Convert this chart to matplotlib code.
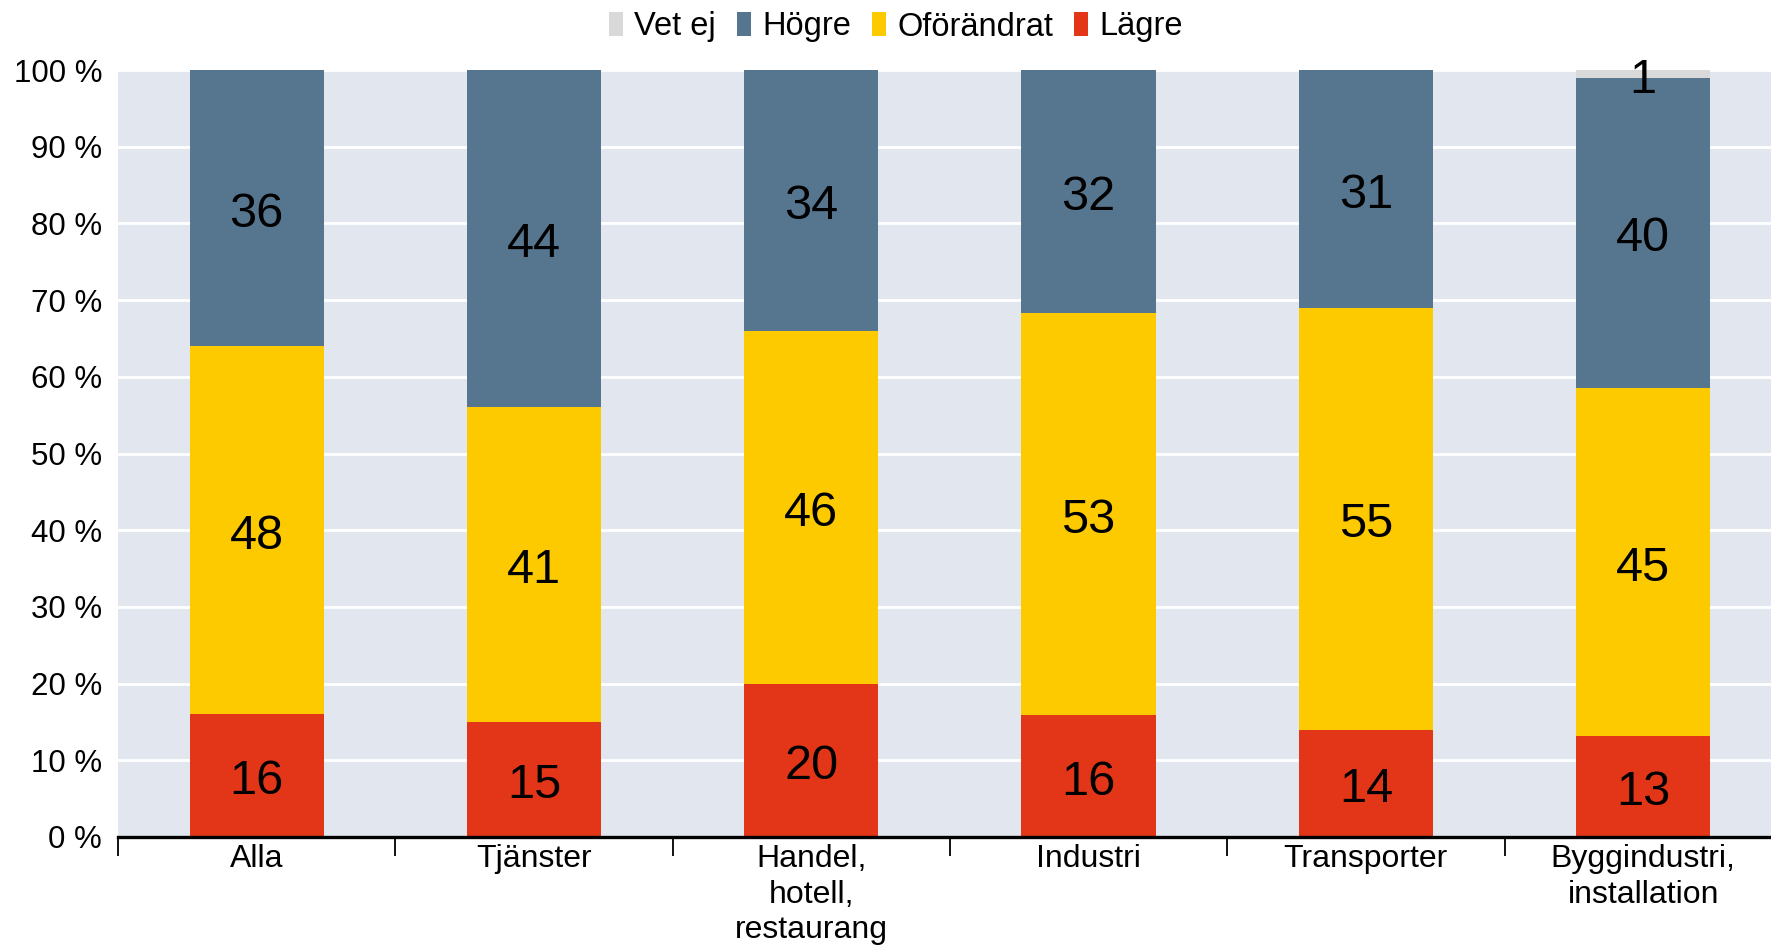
import matplotlib.pyplot as plt
import numpy as np

plt.rcParams["font.family"] = ["Liberation Sans", "DejaVu Sans"]

categories = ["Alla", "Tjänster", "Handel,\nhotell,\nrestaurang", "Industri",
              "Transporter", "Byggindustri,\ninstallation"]
lagre = [16, 15, 20, 16, 14, 13]
oforandrat = [48, 41, 46, 53, 55, 45]
hogre = [36, 44, 34, 32, 31, 40]
vet_ej = [0, 0, 0, 0, 0, 1]
yticks = [0, 10, 20, 30, 40, 50, 60, 70, 80, 90, 100]

colors = {"Vet ej": "#D9D9D9", "Högre": "#56758F",
          "Oförändrat": "#FDCA00", "Lägre": "#E33618"}

# stack from bottom, scaled so every bar fills 100 %
series = [("Lägre", lagre), ("Oförändrat", oforandrat),
          ("Högre", hogre), ("Vet ej", vet_ej)]
raw = np.array([s[1] for s in series], dtype=float)
scaled = raw / raw.sum(axis=0) * 100

fig = plt.figure(figsize=(17.71, 9.48), dpi=100)
ax = fig.add_axes([118 / 1771, 111 / 948, 1653 / 1771, 767 / 948])
ax.set_facecolor("#E2E7EF")

x = np.arange(len(categories))
bottom = np.zeros(len(categories))
handles = {}
for i, (name, vals) in enumerate(series):
    bars = ax.bar(x, scaled[i], 0.484, bottom=bottom, color=colors[name],
                  zorder=3, label=name)
    handles[name] = bars
    for j in range(len(categories)):
        if vals[j] > 0:
            ax.annotate(str(vals[j]), (x[j], bottom[j] + scaled[i][j] / 2),
                        xytext=(0, -4.5), textcoords="offset points",
                        ha="center", va="center", fontsize=35, zorder=4)
    bottom += scaled[i]

ax.set_yticks(yticks)
ax.set_yticklabels([f"{v} %" for v in yticks])
ax.yaxis.grid(True, color="white", linewidth=2, zorder=1)
ax.tick_params(axis="y", length=0, pad=11.5, labelsize=22.5)

ax.set_xticks(x)
ax.set_xticklabels(categories, linespacing=1.25)
ax.tick_params(axis="x", which="major", length=0, pad=5, labelsize=23)
ax.set_xticks(np.arange(-0.5, 5, 1), minor=True)
ax.tick_params(axis="x", which="minor", length=13.5, width=1.3, color="black")

# limits last, set_xticks widens the view otherwise
ax.set_xlim(-0.5, 5.461)
ax.set_ylim(0, 100)

for side in ["top", "right", "left"]:
    ax.spines[side].set_visible(False)
ax.spines["bottom"].set_linewidth(2.4)
ax.spines["bottom"].set_zorder(5)

order = ["Vet ej", "Högre", "Oförändrat", "Lägre"]
fig.legend([handles[n] for n in order], order, loc="center",
           bbox_to_anchor=(896 / 1771, 1 - 27 / 948), ncol=4, frameon=False,
           fontsize=23.5, handlelength=0.42, handleheight=0.75,
           handletextpad=0.35, columnspacing=0.65)

fig.savefig("out.png", dpi=100)
